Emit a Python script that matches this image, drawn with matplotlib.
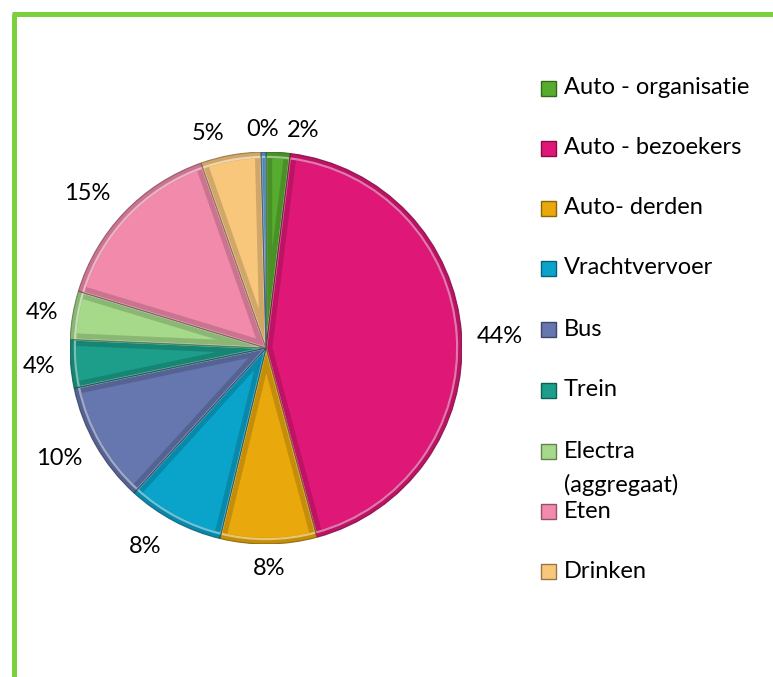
import matplotlib
matplotlib.use("Agg")
import matplotlib.pyplot as plt
import matplotlib.colors as mcolors
from matplotlib.patches import Rectangle, Wedge
from matplotlib.lines import Line2D
import numpy as np

# data (percent of total), clockwise from 12 o'clock
categories = ["Auto - organisatie", "Auto - bezoekers", "Auto- derden", "Vrachtvervoer",
              "Bus", "Trein", "Electra\n(aggregaat)", "Eten", "Drinken", "Overig"]
values = [2.0, 44.0, 8.0, 8.0, 10.0, 4.0, 4.0, 15.0, 5.0, 0.4]
colors = ["#57ac2f", "#df1777", "#e9a90d", "#0aa3ca", "#6676ae",
          "#1c9e8a", "#a6d98a", "#f18aab", "#f8c77c", "#5a9fd6"]
legend_count = 9  # the last tiny slice has no visible legend entry

# small nudges (px) for the outside labels, like the original's label layout
label_nudge = {0: (23, 9), 1: (7, 4), 2: (0, -7), 3: (-14, -2), 4: (-9, -2),
               6: (0, 3), 7: (-15, 3), 8: (-17, 9), 9: (-1, 9)}

W, H = 773, 677
fig = plt.figure(figsize=(W / 100, H / 100), dpi=100)
fig.patch.set_facecolor("white")
plt.rcParams["font.family"] = ["Lato", "DejaVu Sans"]
FS = 17

# pie axes: center (266, 348) px, radius ~196 px
cx, cy, r = 266, 348, 196
ax = fig.add_axes([(cx - r) / W, 1 - (cy + r) / H, 2 * r / W, 2 * r / H])
wedges, _ = ax.pie(values, colors=colors, startangle=90, counterclock=False,
                   radius=1.0, wedgeprops=dict(edgecolor="none"))
ax.set_xlim(-1, 1)
ax.set_ylim(-1, 1)
ax.set_aspect("equal")
ax.axis("off")

# bevel-ish rim inside each wedge
for w, c in zip(wedges, colors):
    rgb = mcolors.to_rgb(c)
    dark = tuple(v * 0.55 for v in rgb)
    light = tuple(1 - (1 - v) * 0.4 for v in rgb)
    rim = Wedge(w.center, w.r, w.theta1, w.theta2, facecolor="none",
                edgecolor=dark, linewidth=9, alpha=0.35)
    rim.set_clip_path(w)
    ax.add_patch(rim)
    hi = Wedge(w.center, w.r * 0.975, w.theta1, w.theta2, facecolor="none",
               edgecolor=light, linewidth=1.6, alpha=0.7)
    hi.set_clip_path(w)
    ax.add_patch(hi)
    edge = Wedge(w.center, w.r, w.theta1, w.theta2, facecolor="none",
                 edgecolor=dark, linewidth=0.8, alpha=0.8)
    ax.add_patch(edge)

# percentage labels outside the slices
total = sum(values)
for i, (w, v) in enumerate(zip(wedges, values)):
    mid = np.deg2rad((w.theta1 + w.theta2) / 2)
    d = 1.16
    nx, ny = label_nudge.get(i, (0, 0))
    ax.text(d * np.cos(mid) + nx / r, d * np.sin(mid) - ny / r, f"{v / total * 100:.0f}%",
            ha="center", va="center", fontsize=FS, color="black", clip_on=False)

# legend drawn by hand
row_y = [88, 148, 208, 268, 329, 390, 451, 511, 571]
for name, c, y in zip(categories[:legend_count], colors[:legend_count], row_y):
    fig.patches.append(Rectangle((541 / W, 1 - (y + 8) / H), 15 / W, 15 / H,
                                 transform=fig.transFigure, facecolor=c,
                                 edgecolor=tuple(v * 0.6 for v in mcolors.to_rgb(c)),
                                 linewidth=1))
    for k, line in enumerate(name.split("\n")):
        fig.text(564 / W, 1 - (y + k * 34) / H, line, ha="left", va="center",
                 fontsize=FS, color="black")

# green frame (left + top)
green = "#7ccf3f"
fig.lines.append(Line2D([14 / W, 14 / W], [0, 1 - 14 / H], transform=fig.transFigure,
                        color=green, linewidth=3.6, solid_capstyle="butt"))
fig.lines.append(Line2D([12 / W, 1], [1 - 13.5 / H, 1 - 13.5 / H], transform=fig.transFigure,
                        color=green, linewidth=3.6, solid_capstyle="butt"))

fig.savefig("out.png", dpi=100)
